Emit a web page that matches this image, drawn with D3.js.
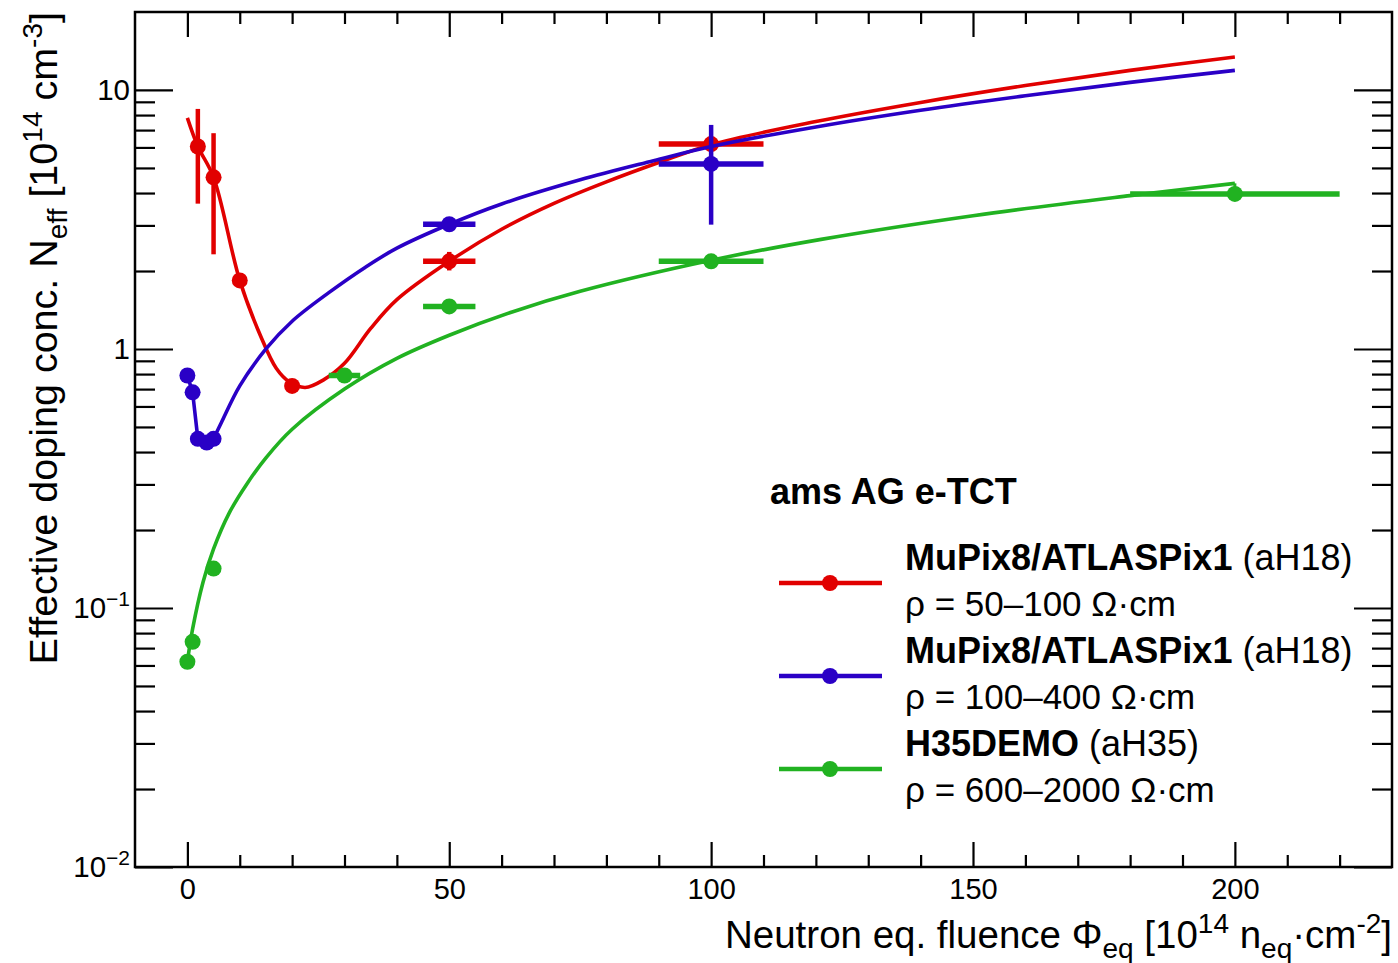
<!DOCTYPE html>
<html><head><meta charset="utf-8">
<script src="https://cdn.jsdelivr.net/npm/d3@7"></script>
<style>
body{margin:0;background:#fff}
svg{display:block}
text{font-family:"Liberation Sans",Arial,Helvetica,sans-serif;fill:#000}
</style>
</head><body>
<svg id="chart" width="1398" height="963"></svg>
<script>
// ---------------- data ----------------
const xTicksMajor = [0, 50, 100, 150, 200];
const xTicksMinor = [10, 20, 30, 40, 60, 70, 80, 90, 110, 120, 130, 140, 160, 170, 180, 190, 210, 220];
const yTicksMajor = [0.01, 0.1, 1, 10];
const yTickLabels = [["10", "\u22122"], ["10", "\u22121"], ["1", ""], ["10", ""]];
const yTicksMinor = [0.02,0.03,0.04,0.05,0.06,0.07,0.08,0.09,0.2,0.3,0.4,0.5,0.6,0.7,0.8,0.9,2,3,4,5,6,7,8,9];

// red series: MuPix8/ATLASPix1 50-100 Ohm cm
const redX     = [2, 5, 10, 20, 50, 100];
const redY     = [6.05, 4.6, 1.84, 0.72, 2.18, 6.18];
const redXErr  = [0, 0, 0, 0, 5, 10];
const redYLow  = [3.64, 2.32, 1.84, 0.72, 2.01, 6.18];
const redYHigh = [8.45, 6.81, 1.84, 0.72, 2.37, 6.18];
const redCurveX = [0, 2, 5, 10, 14, 17, 19.5, 22.5, 26, 30, 35, 40, 50, 60, 70, 80, 90, 100, 120, 140, 160, 180, 200];
const redCurveY = [7.8, 6.05, 4.6, 1.84, 1.12, 0.84, 0.745, 0.71, 0.76, 0.88, 1.2, 1.55, 2.18, 2.9, 3.65, 4.42, 5.25, 6.15, 7.55, 8.95, 10.4, 11.9, 13.4];

// blue series: MuPix8/ATLASPix1 100-400 Ohm cm
const blueX     = [0, 1, 2, 3.7, 5, 50, 100];
const blueY     = [0.79, 0.68, 0.45, 0.435, 0.45, 3.03, 5.18];
const blueXErr  = [0, 0, 0, 0, 0, 5, 10];
const blueYLow  = [0.79, 0.68, 0.45, 0.435, 0.45, 3.03, 3.02];
const blueYHigh = [0.79, 0.68, 0.45, 0.435, 0.45, 3.03, 7.33];
const blueLineX  = [0, 1, 2, 3.7, 5];
const blueLineY  = [0.79, 0.68, 0.45, 0.435, 0.45];
const blueCurveX = [5, 6.5, 10, 15, 20, 27, 34, 40, 50, 60, 75, 89, 100, 120, 140, 160, 180, 200];
const blueCurveY = [0.45, 0.52, 0.72, 1.0, 1.28, 1.65, 2.07, 2.45, 3.03, 3.63, 4.5, 5.33, 6.05, 7.2, 8.35, 9.5, 10.7, 11.9];

// green series: H35DEMO 600-2000 Ohm cm
const greenX     = [0, 1, 5, 30, 50, 100, 200];
const greenY     = [0.062, 0.074, 0.142, 0.79, 1.46, 2.18, 3.97];
const greenXErr  = [0, 0, 0, 3, 5, 10, 20];
const greenYLow  = [0.062, 0.074, 0.142, 0.79, 1.46, 2.18, 3.97];
const greenYHigh = [0.062, 0.074, 0.142, 0.79, 1.46, 2.18, 3.97];
const greenCurveX = [0, 1, 3, 5, 8, 11.3, 15, 20, 30, 40, 50, 62, 75, 100, 121, 150, 180, 200];
const greenCurveY = [0.062, 0.083, 0.126, 0.169, 0.233, 0.30, 0.38, 0.49, 0.70, 0.92, 1.13, 1.39, 1.67, 2.2, 2.65, 3.27, 3.91, 4.36];
const greenTailX = [200, 200];
const greenTailY = [4.36, 3.97];

const legendTitle = "ams AG e-TCT";
const legendBold  = ["MuPix8/ATLASPix1", "MuPix8/ATLASPix1", "H35DEMO"];
const legendTag   = ["(aH18)", "(aH18)", "(aH35)"];
const legendRho   = ["\u03C1 = 50\u2013100 \u03A9\u00B7cm", "\u03C1 = 100\u2013400 \u03A9\u00B7cm", "\u03C1 = 600\u20132000 \u03A9\u00B7cm"];

const colors = {red: "#e10000", blue: "#2a00c6", green: "#21b221"};

// ---------------- layout ----------------
const L = 135, R = 1392, T = 12, B = 867;
const svg = d3.select("#chart");
const x = d3.scaleLinear().domain([-10, 230]).range([L, R]);
const y = d3.scaleLog().domain([0.01, 20]).range([B, T]);

// frame
svg.append("rect").attr("x", L).attr("y", T).attr("width", R - L).attr("height", B - T)
  .attr("fill", "none").attr("stroke", "#000").attr("stroke-width", 2.5);

function styleAxis(g) {
  g.select(".domain").remove();
  g.selectAll(".tick line").attr("stroke", "#000").attr("stroke-width", 2.2);
}

// x axes (bottom + top), major and minor
svg.append("g").attr("transform", `translate(0,${B})`)
  .call(d3.axisBottom(x).tickValues(xTicksMajor).tickSizeInner(-25).tickSizeOuter(0).tickPadding(11).tickFormat(d3.format("d")))
  .call(styleAxis)
  .call(g => g.selectAll("text").attr("font-size", 29).attr("font-family", '"Liberation Sans",Arial,sans-serif').attr("fill", "#000"));
svg.append("g").attr("transform", `translate(0,${B})`)
  .call(d3.axisBottom(x).tickValues(xTicksMinor).tickSizeInner(-12).tickSizeOuter(0).tickFormat(""))
  .call(styleAxis);
svg.append("g").attr("transform", `translate(0,${T})`)
  .call(d3.axisTop(x).tickValues(xTicksMajor).tickSizeInner(-25).tickSizeOuter(0).tickFormat(""))
  .call(styleAxis);
svg.append("g").attr("transform", `translate(0,${T})`)
  .call(d3.axisTop(x).tickValues(xTicksMinor).tickSizeInner(-12).tickSizeOuter(0).tickFormat(""))
  .call(styleAxis);

// y axes (left + right)
svg.append("g").attr("transform", `translate(${L},0)`)
  .call(d3.axisLeft(y).tickValues(yTicksMajor).tickSizeInner(-38).tickSizeOuter(0).tickFormat(""))
  .call(styleAxis);
svg.append("g").attr("transform", `translate(${L},0)`)
  .call(d3.axisLeft(y).tickValues(yTicksMinor).tickSizeInner(-20).tickSizeOuter(0).tickFormat(""))
  .call(styleAxis);
svg.append("g").attr("transform", `translate(${R},0)`)
  .call(d3.axisRight(y).tickValues(yTicksMajor).tickSizeInner(-38).tickSizeOuter(0).tickFormat(""))
  .call(styleAxis);
svg.append("g").attr("transform", `translate(${R},0)`)
  .call(d3.axisRight(y).tickValues(yTicksMinor).tickSizeInner(-20).tickSizeOuter(0).tickFormat(""))
  .call(styleAxis);

// y tick labels (with superscripts)
yTicksMajor.forEach((v, i) => {
  const [base, exp] = yTickLabels[i];
  const t = svg.append("text").attr("x", 130).attr("y", y(v) + 10)
    .attr("text-anchor", "end").attr("font-size", 29.5);
  t.append("tspan").text(base);
  if (exp) t.append("tspan").attr("dy", -12).attr("font-size", 21).text(exp);
});

// axis titles
const xt = svg.append("text").attr("x", R).attr("y", 948).attr("text-anchor", "end").attr("font-size", 38.5);
xt.append("tspan").text("Neutron eq. fluence \u03A6");
xt.append("tspan").attr("dy", 10).attr("font-size", 28).text("eq");
xt.append("tspan").attr("dy", -10).text(" [10");
xt.append("tspan").attr("dy", -15).attr("font-size", 28).text("14");
xt.append("tspan").attr("dy", 15).text(" n");
xt.append("tspan").attr("dy", 10).attr("font-size", 28).text("eq");
xt.append("tspan").attr("dy", -10).text("\u00B7cm");
xt.append("tspan").attr("dy", -15).attr("font-size", 28).text("-2");
xt.append("tspan").attr("dy", 15).text("]");

const yt = svg.append("text").attr("transform", `translate(57,${T}) rotate(-90)`)
  .attr("text-anchor", "end").attr("font-size", 39.5);
yt.append("tspan").text("Effective doping conc. N");
yt.append("tspan").attr("dy", 10).attr("font-size", 28).text("eff");
yt.append("tspan").attr("dy", -10).text(" [10");
yt.append("tspan").attr("dy", -15).attr("font-size", 28).text("14");
yt.append("tspan").attr("dy", 15).text(" cm");
yt.append("tspan").attr("dy", -15).attr("font-size", 28).text("-3");
yt.append("tspan").attr("dy", 15).text("]");

// ---------------- series ----------------
const smooth = d3.line().x(d => x(d[0])).y(d => y(d[1])).curve(d3.curveCatmullRom.alpha(0.5));
const straight = d3.line().x(d => x(d[0])).y(d => y(d[1]));
const zip = (a, b) => a.map((v, i) => [v, b[i]]);

function drawPath(g, pts, gen, color, w) {
  g.append("path").datum(pts).attr("d", gen)
    .attr("fill", "none").attr("stroke", color).attr("stroke-width", w)
    .attr("stroke-linejoin", "round");
}

function drawPoints(g, color, px, py, xe, ylo, yhi) {
  px.forEach((v, i) => {
    if (xe[i] > 0) g.append("line").attr("x1", x(v - xe[i])).attr("x2", x(v + xe[i]))
      .attr("y1", y(py[i])).attr("y2", y(py[i])).attr("stroke", color).attr("stroke-width", 5.5);
    if (yhi[i] > ylo[i]) g.append("line").attr("x1", x(v)).attr("x2", x(v))
      .attr("y1", y(ylo[i])).attr("y2", y(yhi[i])).attr("stroke", color).attr("stroke-width", 4.5);
  });
  g.selectAll("circle").data(zip(px, py)).join("circle")
    .attr("cx", d => x(d[0])).attr("cy", d => y(d[1])).attr("r", 8).attr("fill", color);
}

const gr = svg.append("g");
drawPath(gr, zip(redCurveX, redCurveY), smooth, colors.red, 3.6);
drawPoints(gr, colors.red, redX, redY, redXErr, redYLow, redYHigh);

const gb = svg.append("g");
drawPath(gb, zip(blueLineX, blueLineY), straight, colors.blue, 3.6);
drawPath(gb, zip(blueCurveX, blueCurveY), smooth, colors.blue, 3.6);
drawPoints(gb, colors.blue, blueX, blueY, blueXErr, blueYLow, blueYHigh);

const gg = svg.append("g");
drawPath(gg, zip(greenCurveX, greenCurveY), smooth, colors.green, 3.6);
drawPath(gg, zip(greenTailX, greenTailY), straight, colors.green, 3);
drawPoints(gg, colors.green, greenX, greenY, greenXErr, greenYLow, greenYHigh);

// ---------------- legend ----------------
svg.append("text").attr("x", 770).attr("y", 504).attr("font-size", 36).attr("font-weight", "bold").text(legendTitle);
const legColors = [colors.red, colors.blue, colors.green];
const legBase = [570, 663, 756];
legColors.forEach((c, i) => {
  const yl = legBase[i] + 13;
  svg.append("line").attr("x1", 779).attr("x2", 882).attr("y1", yl).attr("y2", yl)
    .attr("stroke", c).attr("stroke-width", 4.5);
  svg.append("circle").attr("cx", 830).attr("cy", yl).attr("r", 8).attr("fill", c);
  const t = svg.append("text").attr("x", 905).attr("y", legBase[i]).attr("font-size", 36);
  t.append("tspan").attr("font-weight", "bold").text(legendBold[i]);
  t.append("tspan").text(" " + legendTag[i]);
  svg.append("text").attr("x", 905).attr("y", legBase[i] + 46).attr("font-size", 35).text(legendRho[i]);
});
</script>
</body></html>
